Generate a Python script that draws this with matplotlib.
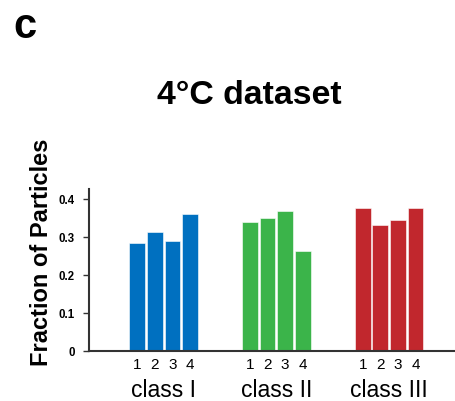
import matplotlib
matplotlib.use("Agg")
import matplotlib.pyplot as plt
import matplotlib.transforms as mtransforms

plt.rcParams['font.family'] = ['Liberation Sans', 'DejaVu Sans']

classes = ["class I", "class II", "class III"]
bar_labels = ["1", "2", "3", "4"]
values = {
    "class I": [0.284, 0.314, 0.288, 0.360],
    "class II": [0.339, 0.350, 0.368, 0.263],
    "class III": [0.377, 0.332, 0.345, 0.377],
}
colors = ["#0070C0", "#3BB44A", "#C1272D"]
yticks = [0, 0.1, 0.2, 0.3, 0.4]
ytick_labels = ["0", "0.1", "0.2", "0.3", "0.4"]

W, H = 456, 402
fig = plt.figure(figsize=(W / 100, H / 100), dpi=100)
ax = fig.add_axes([89 / W, 1 - 352 / H, 1 - 89 / W, (352 - 190) / H])

group_gap = 6.4
xt, xl = [], []
for g, (cls, col) in enumerate(zip(classes, colors)):
    xs = [g * group_gap + i for i in range(len(bar_labels))]
    ax.bar(xs, values[cls], width=0.9, color=col, edgecolor="white", linewidth=0.4)
    xt += xs
    xl += bar_labels
    center = sum(xs) / len(xs)
    ax.text(center, -0.235, cls, transform=mtransforms.blended_transform_factory(ax.transData, ax.transAxes),
            ha="center", va="center", fontsize=16.5)

ax.set_xlim(-2.74, 18.1)
ax.set_ylim(0, 0.426)
ax.set_xticks(xt)
ax.set_xticklabels(xl, fontsize=11)
ax.tick_params(axis="x", length=0, pad=4)
ax.set_yticks(yticks)
ax.set_yticklabels(ytick_labels, fontsize=8.3, fontweight="bold")
ax.tick_params(axis="y", length=4, width=1, color="#333333", pad=6)
for s in ["top", "right"]:
    ax.spines[s].set_visible(False)
for s in ["left", "bottom"]:
    ax.spines[s].set_linewidth(1.5)
    ax.spines[s].set_color("#333333")

fig.text(42 / W, 1 - 252 / H, "Fraction of Particles", rotation=90, ha="center", va="center",
         fontsize=17, fontweight="bold")
fig.text(249.5 / W, 1 - 95 / H, "4°C dataset", ha="center", va="center", fontsize=24.4, fontweight="bold")
fig.text(25 / W, 1 - 27 / H, "c", ha="center", va="center", fontsize=30, fontweight="bold")

fig.savefig("out.png", dpi=100)
